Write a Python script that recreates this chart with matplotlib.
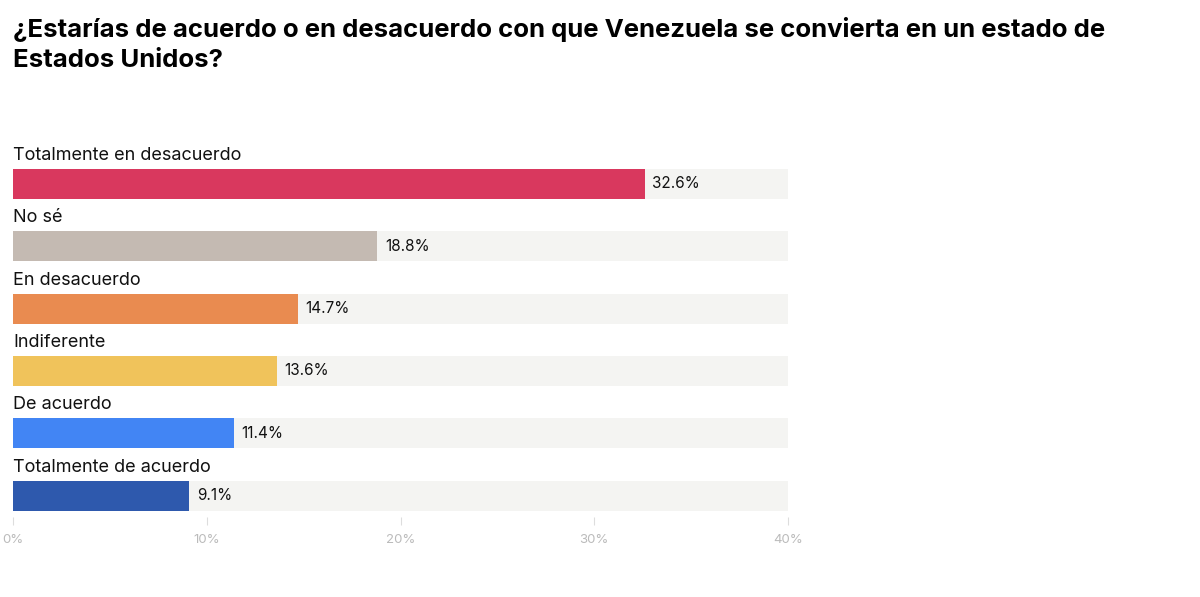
import matplotlib
matplotlib.use("Agg")
import matplotlib.pyplot as plt
from matplotlib.ticker import FuncFormatter

categories = ["Totalmente en desacuerdo", "No sé", "En desacuerdo",
              "Indiferente", "De acuerdo", "Totalmente de acuerdo"]
values = [32.6, 18.8, 14.7, 13.6, 11.4, 9.1]
colors = ["#d9385e", "#c4bab2", "#e98b50", "#f0c35b", "#4285f4", "#2e59ad"]
xticks = [0, 10, 20, 30, 40]
title = "¿Estarías de acuerdo o en desacuerdo con que Venezuela se convierta en un estado de\nEstados Unidos?"

W, H = 1200, 597
fig = plt.figure(figsize=(W / 100, H / 100), dpi=100)
fig.patch.set_facecolor("white")

px_top, px_bot = 140, 517
ax = fig.add_axes([13 / W, 1 - px_bot / H, (788 - 13) / W, (px_bot - px_top) / H])

spacing = 62.3
y = list(range(len(categories)))
bh = 30 / spacing
ax.barh(y, [xticks[-1]] * len(y), height=bh, color="#f4f4f2", zorder=1)
ax.barh(y, values, height=bh, color=colors, zorder=2)

for i, (c, v) in enumerate(zip(categories, values)):
    ax.text(0, i - bh / 2 - 0.08, c, ha="left", va="bottom", fontsize=13,
            family="Inter", color="#111111")
    ax.text(v + 0.4, i, f"{v}%", ha="left", va="center", fontsize=11,
            family="Inter", color="#111111", zorder=3)

ax.set_xlim(0, 40)
ax.set_ylim((px_bot - 184) / spacing, (px_top - 184) / spacing)
ax.set_yticks([])
ax.set_xticks(xticks)
ax.xaxis.set_major_formatter(FuncFormatter(lambda v, p: f"{int(v)}%"))
ax.tick_params(axis="x", length=6, width=0.8, color="#dddddd", labelcolor="#bbbbbb",
               labelsize=9.5, pad=6)
for lab in ax.get_xticklabels():
    lab.set_family("Inter")
for s in ax.spines.values():
    s.set_visible(False)

fig.text(13 / W, 1 - 17 / H, title, ha="left", va="top", fontsize=18.5,
         fontweight="bold", family="Inter", color="#000000", linespacing=1.4)

fig.savefig("out.png", dpi=100, facecolor="white")
